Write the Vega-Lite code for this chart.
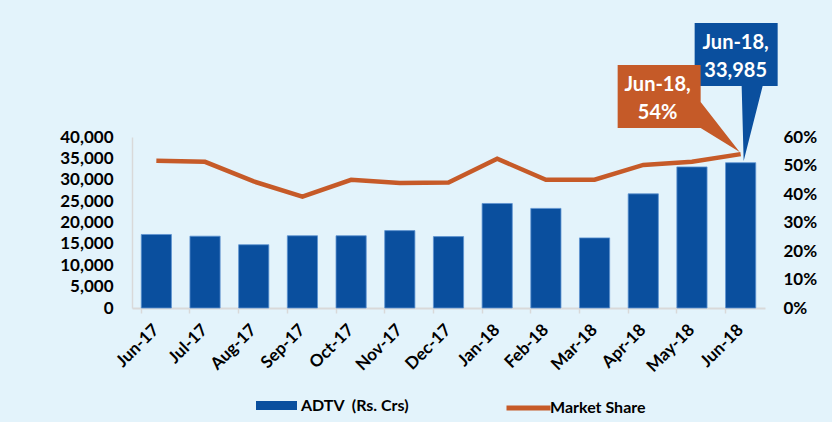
{
  "$schema": "https://vega.github.io/schema/vega-lite/v6.json",
  "width": 633,
  "height": 171,
  "autosize": {"type": "none"},
  "padding": {"left": 132, "top": 137, "right": 67, "bottom": 114},
  "background": "#E3F3FB",
  "config": {
    "view": {"stroke": null},
    "font": "Lato",
    "axis": {"labelFont": "Lato", "labelFontWeight": "bold", "labelColor": "#000000", "grid": false, "title": null}
  },
  "data": {
    "values": [
      {"month": "Jun-17", "adtv": 17200, "share": 0.517},
      {"month": "Jul-17", "adtv": 16800, "share": 0.513},
      {"month": "Aug-17", "adtv": 14800, "share": 0.444},
      {"month": "Sep-17", "adtv": 16900, "share": 0.391},
      {"month": "Oct-17", "adtv": 16900, "share": 0.45},
      {"month": "Nov-17", "adtv": 18100, "share": 0.439},
      {"month": "Dec-17", "adtv": 16700, "share": 0.44},
      {"month": "Jan-18", "adtv": 24450, "share": 0.524},
      {"month": "Feb-18", "adtv": 23300, "share": 0.45},
      {"month": "Mar-18", "adtv": 16400, "share": 0.45},
      {"month": "Apr-18", "adtv": 26700, "share": 0.502},
      {"month": "May-18", "adtv": 33000, "share": 0.513},
      {"month": "Jun-18", "adtv": 33985, "share": 0.54}
    ]
  },
  "encoding": {
    "x": {
      "field": "month", "type": "nominal", "sort": null,
      "scale": {"paddingInner": 0.38, "paddingOuter": 0.19},
      "axis": {
        "labelAngle": -45, "labelAlign": "right", "labelBaseline": "middle",
        "labelFontSize": 17, "labelPadding": 14,
        "bandPosition": 0, "tickSize": 5, "tickColor": "#D9D9D9", "tickWidth": 1.5,
        "domainColor": "#D9D9D9", "domainWidth": 2
      }
    }
  },
  "layer": [
    {
      "mark": {"type": "bar", "stroke": "#5E93D1", "strokeWidth": 0.8},
      "encoding": {
        "y": {
          "field": "adtv", "type": "quantitative",
          "scale": {"domain": [0, 40000]},
          "axis": {
            "values": [0, 5000, 10000, 15000, 20000, 25000, 30000, 35000, 40000],
            "format": ",.0f", "labelFontSize": 17, "ticks": false, "tickSize": 0, "labelPadding": 19,
            "domainColor": "#D9D9D9", "domainWidth": 1.5
          }
        },
        "fill": {
          "datum": "ADTV\u00a0 (Rs. Crs)",
          "scale": {"range": ["#0A4F9E"]},
          "legend": {
            "orient": "none", "legendX": 124, "legendY": 248, "title": null, "padding": 0,
            "symbolType": "M-1,-0.22H1V0.22H-1Z", "symbolSize": 1681, "symbolStrokeWidth": 0,
            "labelFontSize": 16, "labelFontWeight": "bold", "labelColor": "#000000", "labelOffset": 4
          }
        }
      }
    },
    {
      "encoding": {
        "y": {
          "field": "share", "type": "quantitative",
          "scale": {"domain": [0, 0.6]},
          "axis": {
            "orient": "right", "values": [0, 0.1, 0.2, 0.3, 0.4, 0.5, 0.6],
            "format": ".0%", "labelFontSize": 17, "ticks": false, "tickSize": 0, "labelPadding": 18,
            "domain": false
          }
        }
      },
      "layer": [
        {
          "mark": {"type": "line", "strokeWidth": 4.5},
          "encoding": {
            "stroke": {
              "datum": "Market Share",
              "scale": {"range": ["#C65A28"]},
              "legend": {
                "orient": "none", "legendX": 372, "legendY": 246.5, "title": null, "padding": 0,
                "symbolType": "stroke", "symbolSize": 1936, "symbolStrokeWidth": 5,
                "labelFontSize": 16, "labelFontWeight": "bold", "labelColor": "#000000", "labelOffset": -3
              }
            }
          }
        },
        {
          "transform": [{"filter": "datum.month == 'Jun-18'"}],
          "mark": {"type": "point", "shape": "M-46,-131H37V-68H22L3,7L1,-68H-46Z", "size": 4, "filled": true, "color": "#0A4F9E", "opacity": 1, "strokeWidth": 0}
        },
        {
          "transform": [{"filter": "datum.month == 'Jun-18'"}],
          "mark": {"type": "point", "shape": "M-123,-89H-40V-52L-1,-2L-40,-26H-123Z", "size": 4, "filled": true, "color": "#C55A28", "opacity": 1, "strokeWidth": 0}
        },
        {
          "transform": [{"filter": "datum.month == 'Jun-18'"}],
          "mark": {"type": "text", "text": ["Jun-18,", "33,985"], "dx": -5, "dy": -105.6, "align": "center", "baseline": "alphabetic", "lineHeight": 28.5, "fontSize": 20, "fontWeight": "bold", "font": "Lato", "color": "#FFFFFF"}
        },
        {
          "transform": [{"filter": "datum.month == 'Jun-18'"}],
          "mark": {"type": "text", "text": ["Jun-18,", "54%"], "dx": -83, "dy": -63.6, "align": "center", "baseline": "alphabetic", "lineHeight": 28.3, "fontSize": 20, "fontWeight": "bold", "font": "Lato", "color": "#FFFFFF"}
        }
      ]
    }
  ],
  "resolve": {"scale": {"y": "independent"}}
}
